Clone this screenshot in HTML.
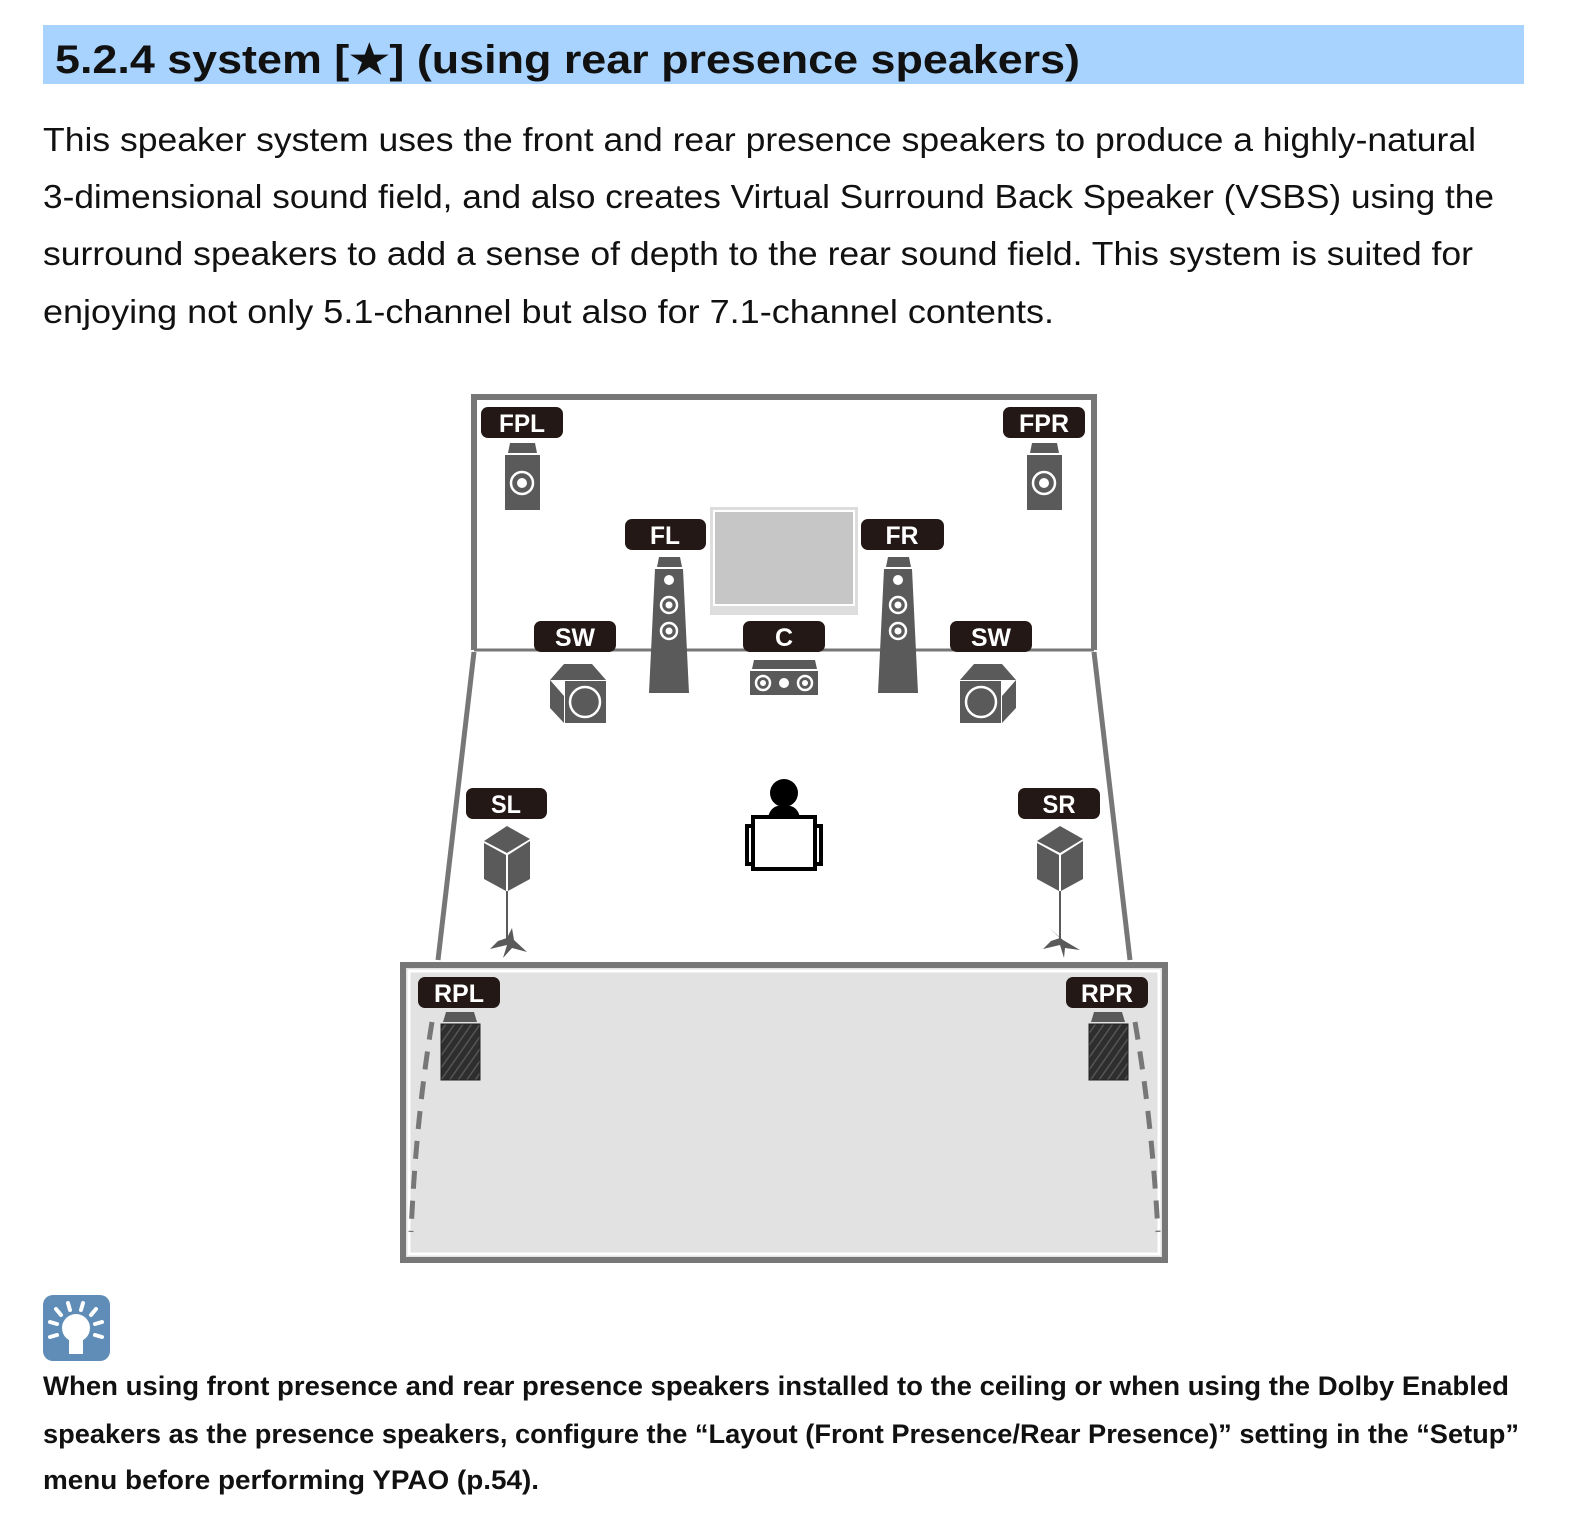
<!DOCTYPE html>
<html><head><meta charset="utf-8"><style>
html,body{margin:0;padding:0;background:#fff;width:1570px;height:1528px;overflow:hidden}
svg{display:block}
.b{font-family:"Liberation Sans",sans-serif;font-size:33px;fill:#111}
.n{font-family:"Liberation Sans",sans-serif;font-size:27px;font-weight:bold;fill:#111}
.l{font-family:"Liberation Sans",sans-serif;font-size:25px;font-weight:bold;fill:#fff}
</style></head><body>
<svg width="1570" height="1528" viewBox="0 0 1570 1528" xmlns="http://www.w3.org/2000/svg">
<defs>
<pattern id="h" width="7" height="7" patternUnits="userSpaceOnUse" patternTransform="rotate(35)">
<rect width="7" height="7" fill="#2e2e2e"/><rect width="1.5" height="7" fill="#555"/>
</pattern>
</defs>
<rect x="43" y="25" width="1481" height="59" fill="#a9d3ff"/>
<text x="55" y="73" font-family="Liberation Sans,sans-serif" font-size="40" font-weight="bold" fill="#111" textLength="1025" lengthAdjust="spacingAndGlyphs">5.2.4 system [★] (using rear presence speakers)</text>
<text class="b" x="43" y="151" textLength="1433" lengthAdjust="spacingAndGlyphs">This speaker system uses the front and rear presence speakers to produce a highly-natural</text>
<text class="b" x="43" y="208" textLength="1451" lengthAdjust="spacingAndGlyphs">3-dimensional sound field, and also creates Virtual Surround Back Speaker (VSBS) using the</text>
<text class="b" x="43" y="265" textLength="1430" lengthAdjust="spacingAndGlyphs">surround speakers to add a sense of depth to the rear sound field. This system is suited for</text>
<text class="b" x="43" y="323" textLength="1011" lengthAdjust="spacingAndGlyphs">enjoying not only 5.1-channel but also for 7.1-channel contents.</text>

<!-- room -->
<g fill="none" stroke="#777">
<polyline points="474,650 474,397 1094,397 1094,650" stroke-width="6"/>
<line x1="474" y1="650" x2="1094" y2="650" stroke-width="3"/>
<line x1="474" y1="652" x2="438" y2="960" stroke-width="5"/>
<line x1="1094" y1="652" x2="1130" y2="960" stroke-width="5"/>
</g>
<!-- rear area -->
<rect x="403" y="965" width="762" height="295" fill="#e2e2e2" stroke="#777" stroke-width="6"/>
<rect x="409" y="971" width="750" height="283" fill="none" stroke="#fff" stroke-width="3"/>
<path d="M432,1022 Q416,1120 411,1232" fill="none" stroke="#777" stroke-width="5" stroke-dasharray="18,12"/>
<path d="M1135,1022 Q1152,1120 1158,1232" fill="none" stroke="#777" stroke-width="5" stroke-dasharray="18,12"/>

<!-- TV -->
<rect x="710" y="507" width="148" height="108" fill="#ddd"/>
<rect x="714" y="511" width="140" height="94" fill="#c6c6c6" stroke="#fff" stroke-width="2"/>

<g fill="#5a5a5a">
<!-- FPL / FPR -->
<polygon points="510,443 535,443 537,453 508,453"/><rect x="505" y="455" width="35" height="55"/>
<polygon points="1032,443 1057,443 1059,453 1030,453"/><rect x="1027" y="455" width="35" height="55"/>
<!-- FL / FR towers -->
<polygon points="659,557 680,557 682,567 657,567"/><polygon points="655,569 683,569 689,693 649,693"/>
<polygon points="888,557 909,557 911,567 886,567"/><polygon points="884,569 912,569 918,693 878,693"/>
<!-- C -->
<polygon points="754,660 815,660 817,669 752,669"/><rect x="750" y="671" width="68" height="24"/>
<!-- SW left -->
<polygon points="550,680 564,664 592,664 606,680"/><polygon points="550,680 564,696 564,723 550,708"/>
<rect x="565" y="681" width="41" height="42"/>
<!-- SW right -->
<polygon points="960,680 974,664 1002,664 1016,680"/><polygon points="1016,680 1002,696 1002,723 1016,708"/>
<rect x="960" y="681" width="41" height="42"/>
<!-- SL -->
<polygon points="484,841 507,826 530,839 507,853"/><polygon points="484,843 506,855 506,891 484,879"/><polygon points="508,855 530,841 530,879 508,891"/>
<rect x="506" y="891" width="2" height="48"/>
<path d="M507,945 L490,949 L498,941 L507,938 L512,928 L514,940 L527,952 L512,948 L503,958 Z"/>
<!-- SR -->
<polygon points="1037,841 1060,826 1083,839 1060,853"/><polygon points="1037,843 1059,855 1059,891 1037,879"/><polygon points="1061,855 1083,841 1083,879 1061,891"/>
<rect x="1059" y="891" width="2" height="48"/>
<path d="M1060,945 L1043,949 L1051,941 L1060,938 L1049,928 L1063,940 L1080,950 L1065,948 L1064,958 Z"/>
<!-- RPL/RPR caps -->
<polygon points="446,1012 474,1012 477,1022 443,1022"/>
<polygon points="1094,1012 1122,1012 1125,1022 1091,1022"/>
</g>
<rect x="441" y="1024" width="39" height="56" fill="url(#h)" stroke="#222"/>
<rect x="1089" y="1024" width="39" height="56" fill="url(#h)" stroke="#222"/>
<!-- driver rings -->
<g fill="none" stroke="#fff" stroke-width="2.5">
<circle cx="522" cy="483" r="11"/><circle cx="1044" cy="483" r="11"/>
<circle cx="669" cy="605" r="8"/><circle cx="669" cy="631" r="8"/>
<circle cx="898" cy="605" r="8"/><circle cx="898" cy="631" r="8"/>
<circle cx="763" cy="683" r="7"/><circle cx="805" cy="683" r="7"/>
<circle cx="585" cy="702" r="15"/><circle cx="981" cy="702" r="15"/>
</g>
<g fill="#fff">
<circle cx="522" cy="483" r="5"/><circle cx="1044" cy="483" r="5"/>
<circle cx="669" cy="580" r="5"/><circle cx="898" cy="580" r="5"/>
<circle cx="669" cy="605" r="3.5"/><circle cx="669" cy="631" r="3.5"/>
<circle cx="898" cy="605" r="3.5"/><circle cx="898" cy="631" r="3.5"/>
<circle cx="763" cy="683" r="3"/><circle cx="784" cy="683" r="5"/><circle cx="805" cy="683" r="3"/>
</g>
<!-- listener -->
<ellipse cx="784" cy="793" rx="14" ry="14" fill="#000"/>
<path d="M768,818 Q770,805 784,805 Q798,805 800,818 Z" fill="#000"/>
<rect x="747" y="826" width="74" height="38" fill="none" stroke="#000" stroke-width="4"/>
<rect x="753" y="817" width="62" height="52" fill="#fff" stroke="#000" stroke-width="4"/>

<!-- labels -->
<g fill="#231815">
<rect x="481" y="407" width="82" height="31" rx="7"/><rect x="1003" y="407" width="82" height="31" rx="7"/>
<rect x="625" y="519" width="81" height="31" rx="7"/><rect x="861" y="519" width="83" height="31" rx="7"/>
<rect x="534" y="621" width="82" height="31" rx="7"/><rect x="743" y="621" width="82" height="31" rx="7"/><rect x="950" y="621" width="82" height="31" rx="7"/>
<rect x="466" y="788" width="81" height="31" rx="7"/><rect x="1018" y="788" width="82" height="31" rx="7"/>
<rect x="418" y="977" width="82" height="31" rx="7"/><rect x="1066" y="977" width="82" height="31" rx="7"/>
</g>
<g class="l" text-anchor="middle">
<text class="l" x="522" y="432" textLength="46" lengthAdjust="spacingAndGlyphs">FPL</text>
<text class="l" x="1044" y="432" textLength="50" lengthAdjust="spacingAndGlyphs">FPR</text>
<text class="l" x="665" y="544" textLength="30" lengthAdjust="spacingAndGlyphs">FL</text>
<text class="l" x="902" y="544" textLength="33" lengthAdjust="spacingAndGlyphs">FR</text>
<text class="l" x="575" y="646" textLength="40" lengthAdjust="spacingAndGlyphs">SW</text>
<text class="l" x="784" y="646">C</text>
<text class="l" x="991" y="646" textLength="40" lengthAdjust="spacingAndGlyphs">SW</text>
<text class="l" x="506" y="813" textLength="30" lengthAdjust="spacingAndGlyphs">SL</text>
<text class="l" x="1059" y="813" textLength="33" lengthAdjust="spacingAndGlyphs">SR</text>
<text class="l" x="459" y="1002" textLength="50" lengthAdjust="spacingAndGlyphs">RPL</text>
<text class="l" x="1107" y="1002" textLength="52" lengthAdjust="spacingAndGlyphs">RPR</text>
</g>

<!-- tip icon -->
<rect x="43" y="1295" width="67" height="66" rx="10" fill="#5f8db8"/>
<g stroke="#fff" stroke-width="4" stroke-linecap="round">
<line x1="68" y1="1303" x2="70" y2="1310"/><line x1="83" y1="1303" x2="81" y2="1310"/>
<line x1="56" y1="1309" x2="61" y2="1315"/><line x1="96" y1="1309" x2="91" y2="1315"/>
<line x1="50" y1="1322" x2="57" y2="1324"/><line x1="102" y1="1322" x2="95" y2="1324"/>
<line x1="50" y1="1337" x2="57" y2="1335"/><line x1="102" y1="1337" x2="95" y2="1335"/>
</g>
<circle cx="76" cy="1328" r="14" fill="#fff"/>
<rect x="69" y="1336" width="14" height="18" fill="#fff"/>

<text class="n" x="43" y="1395" textLength="1466" lengthAdjust="spacingAndGlyphs">When using front presence and rear presence speakers installed to the ceiling or when using the Dolby Enabled</text>
<text class="n" x="43" y="1443" textLength="1476" lengthAdjust="spacingAndGlyphs">speakers as the presence speakers, configure the “Layout (Front Presence/Rear Presence)” setting in the “Setup”</text>
<text class="n" x="43" y="1489" textLength="496" lengthAdjust="spacingAndGlyphs">menu before performing YPAO (p.54).</text>
</svg>
</body></html>
